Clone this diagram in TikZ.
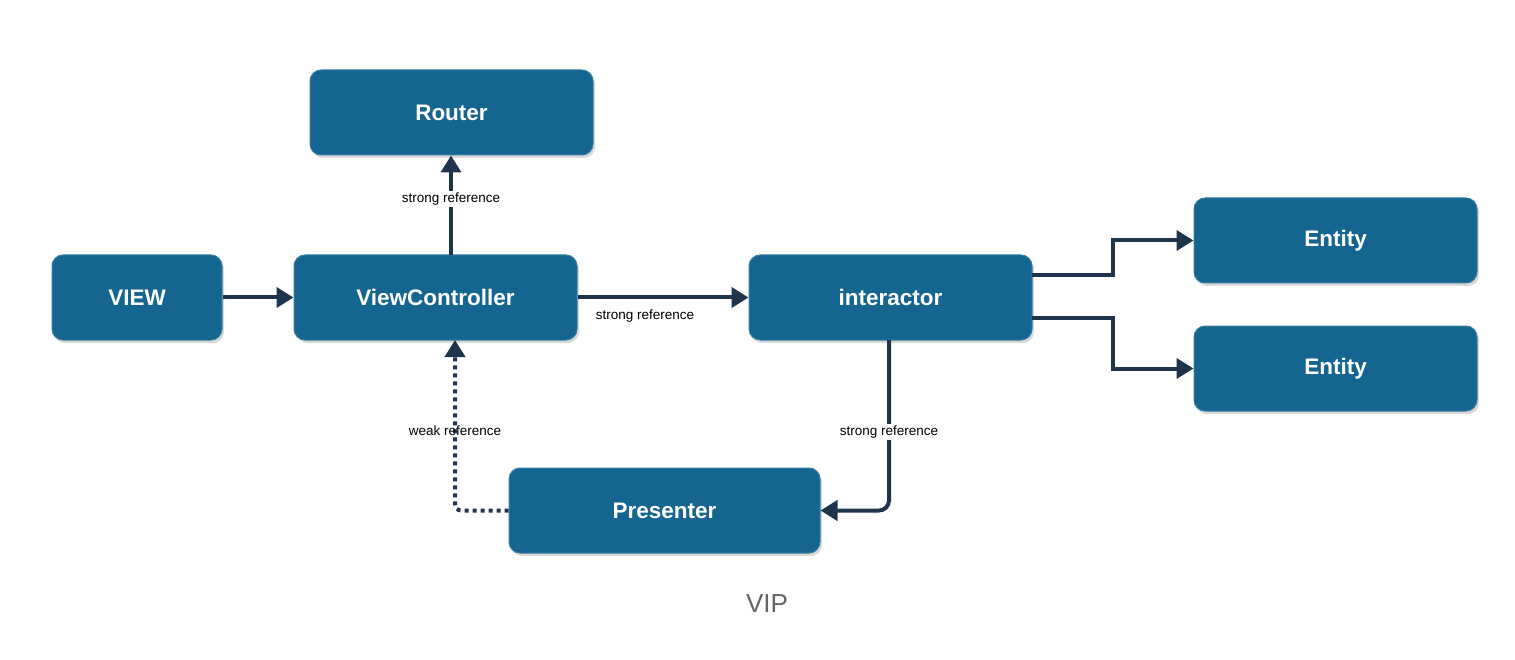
\documentclass[tikz,border=0pt]{standalone}
\usepackage{fontspec}
\setmainfont{Liberation Sans}
\usetikzlibrary{arrows.meta,shadows}
\definecolor{boxblue}{RGB}{21,101,145}
\definecolor{arrowc}{RGB}{30,52,76}
\definecolor{capgray}{RGB}{100,100,100}
\tikzset{
  blockbox/.style={draw=boxblue!85!white, line width=1pt, fill=boxblue, rounded corners=11pt,
    text=white, font=\fontsize{22.5}{26}\selectfont\bfseries, inner sep=0pt,
    drop shadow={shadow xshift=2pt, shadow yshift=-3pt, opacity=0.25, fill=black!60}},
  conn/.style={draw=arrowc, line width=4pt, -{Triangle[length=17pt,width=20pt]}},
  weakconn/.style={conn, dash pattern=on 4pt off 4pt},
  reflabel/.style={fill=white, font=\fontsize{13.5}{16}\selectfont, text=black, inner sep=2pt}
}
\begin{document}
\begin{tikzpicture}[x=1pt,y=-1pt]
\useasboundingbox (0,0) rectangle (1515,660);
\node[blockbox, minimum width=283pt, minimum height=85pt] (router) at (451.5,112.5) {Router};
\node[blockbox, minimum width=170pt, minimum height=85pt] (view) at (137,297.5) {VIEW};
\node[blockbox, minimum width=283pt, minimum height=85pt] (vc) at (435.5,297.5) {ViewController};
\node[blockbox, minimum width=283pt, minimum height=85pt] (inter) at (890.5,297.5) {interactor};
\node[blockbox, minimum width=283pt, minimum height=85pt] (ent1) at (1335.5,240.5) {Entity};
\node[blockbox, minimum width=283pt, minimum height=85pt] (ent2) at (1335.5,368.5) {Entity};
\node[blockbox, minimum width=311pt, minimum height=85pt] (pres) at (664.5,510.5) {Presenter};
\node[text=capgray, font=\fontsize{26}{30}\selectfont] (cap) at (767,604) {VIP};

\coordinate (vctop) at (451,255);
\coordinate (vcbot) at (455,340);
\coordinate (intbot) at (889,340);
\coordinate (e1out) at (1032,275);
\coordinate (e2out) at (1032,318);

\draw[conn] (view.east) -- (vc.west);
\draw[conn] (vctop) -- (vctop |- router.south);
\node[reflabel] (l1) at (451,199) {strong reference};
\draw[conn] (vc.east) -- (inter.west);
\node[reflabel, fill=none] (l2) at (645,316) {strong reference};
\draw[conn] (e1out) -- (1113,275) -- (1113,240.5) -- (ent1.west);
\draw[conn] (e2out) -- (1113,318) -- (1113,368.5) -- (ent2.west);
\draw[conn, rounded corners=10pt] (intbot) -- (889,510.5) -- (pres.east);
\node[reflabel] (l3) at (889,432) {strong reference};
\draw[weakconn, rounded corners=6pt] (pres.west) -- (455,510.5) -- (vcbot);
\node[reflabel, fill=none] (l4) at (455,431) {weak reference};
\end{tikzpicture}
\end{document}
